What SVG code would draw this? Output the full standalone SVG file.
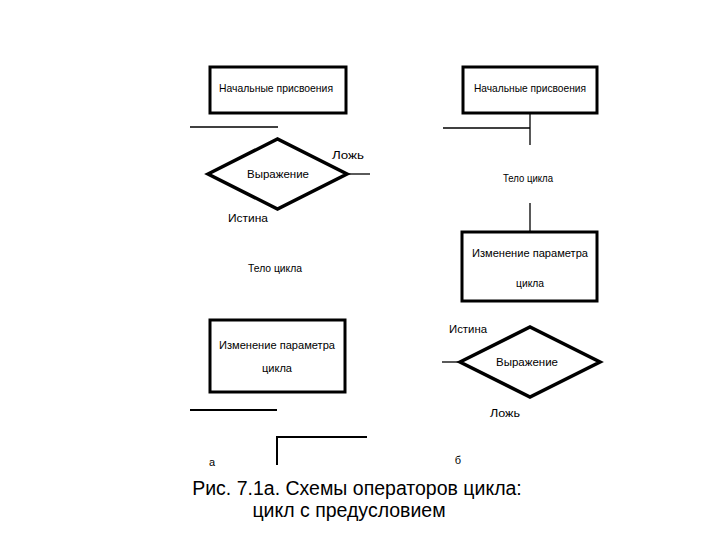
<svg xmlns="http://www.w3.org/2000/svg" width="720" height="540" viewBox="0 0 720 540">
<style>
.box{fill:#fff;stroke:#000;stroke-width:3}
.dia{fill:#fff;stroke:#000;stroke-width:3.5}
.ln{stroke:#000;stroke-width:1.3;fill:none}
.ln2{stroke:#000;stroke-width:2;fill:none}
.t{font-family:"Liberation Sans",Arial,sans-serif;font-size:11px;fill:#000;text-anchor:middle}
.cap{font-family:"Liberation Sans",Arial,sans-serif;font-size:19.5px;fill:#000;text-anchor:middle}
</style>
<rect width="720" height="540" fill="#fff"/>
<g id="connectors">
<line class="ln" x1="190" y1="127" x2="278" y2="127"/>
<line class="ln" x1="347" y1="174" x2="370" y2="174"/>
<line class="ln2" x1="190" y1="410" x2="277" y2="410"/>
<polyline class="ln2" points="277,465 277,437 367,437"/>
<line class="ln" x1="530" y1="113" x2="530" y2="145"/>
<line class="ln" x1="443" y1="128" x2="530" y2="128"/>
<line class="ln" x1="530" y1="203" x2="530" y2="232"/>
<line class="ln" x1="442" y1="362" x2="460" y2="362"/>
</g>
<g id="n1">
<rect class="box" x="210" y="67" width="136" height="46"/>
<text class="t" x="276" y="92" textLength="114" lengthAdjust="spacingAndGlyphs">Начальные присвоения</text>
</g>
<g id="n2">
<polygon class="dia" points="208,174 277.5,139 347,174 277.5,209"/>
<text class="t" x="278" y="178" textLength="62" lengthAdjust="spacingAndGlyphs">Выражение</text>
</g>
<g id="l1"><text class="t" x="348" y="159" textLength="32" lengthAdjust="spacingAndGlyphs">Ложь</text></g>
<g id="l2"><text class="t" x="248" y="222" textLength="40" lengthAdjust="spacingAndGlyphs">Истина</text></g>
<g id="l3"><text class="t" x="275" y="272" textLength="54" lengthAdjust="spacingAndGlyphs">Тело цикла</text></g>
<g id="n3">
<rect class="box" x="210" y="320" width="135" height="72"/>
<text class="t" x="277" y="349" textLength="116" lengthAdjust="spacingAndGlyphs">Изменение параметра</text>
<text class="t" x="277" y="372" textLength="30" lengthAdjust="spacingAndGlyphs">цикла</text>
</g>
<g id="la"><text class="t" x="212" y="466">а</text></g>
<g id="n4">
<rect class="box" x="463" y="67" width="134" height="46"/>
<text class="t" x="530" y="92" textLength="112" lengthAdjust="spacingAndGlyphs">Начальные присвоения</text>
</g>
<g id="l4"><text class="t" x="528" y="182" textLength="50" lengthAdjust="spacingAndGlyphs">Тело цикла</text></g>
<g id="n5">
<rect class="box" x="462" y="232" width="135" height="69"/>
<text class="t" x="530" y="257" textLength="116" lengthAdjust="spacingAndGlyphs">Изменение параметра</text>
<text class="t" x="530" y="287" textLength="28" lengthAdjust="spacingAndGlyphs">цикла</text>
</g>
<g id="n6">
<polygon class="dia" points="460,362 530,327 600,362 530,397"/>
<text class="t" x="527" y="366" textLength="62" lengthAdjust="spacingAndGlyphs">Выражение</text>
</g>
<g id="l5"><text class="t" x="468" y="333" textLength="38" lengthAdjust="spacingAndGlyphs">Истина</text></g>
<g id="l6"><text class="t" x="505" y="417" textLength="30" lengthAdjust="spacingAndGlyphs">Ложь</text></g>
<g id="lb"><text class="t" x="458" y="464">б</text></g>
<g id="caption">
<text class="cap" x="357" y="495">Рис. 7.1а. Схемы операторов цикла:</text>
<text class="cap" x="349" y="517">цикл с предусловием</text>
</g>
</svg>
